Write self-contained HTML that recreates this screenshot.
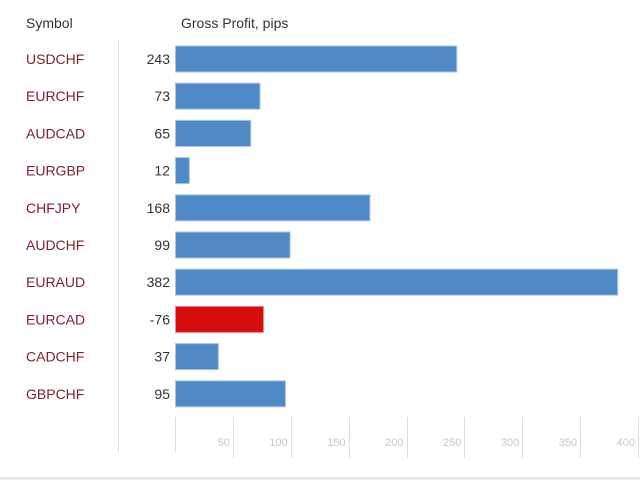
<!DOCTYPE html>
<html><head><meta charset="utf-8"><style>
body{margin:0;width:640px;height:480px;background:#fff;overflow:hidden;font-family:"Liberation Sans",sans-serif}
svg text{font-family:"Liberation Sans",sans-serif}
</style></head><body>
<svg width="640" height="480">
<text x="26" y="28" font-size="14" fill="#333">Symbol</text>
<text x="181" y="28" font-size="14" fill="#333">Gross Profit, pips</text>
<line x1="118.5" y1="40" x2="118.5" y2="452" stroke="#ddd"/>
<line x1="0" y1="478.5" x2="640" y2="478.5" stroke="#ddd" stroke-width="2"/>
<g id="axis"></g><g id="bars"></g>
</svg>
<script>
const symbols=["USDCHF","EURCHF","AUDCAD","EURGBP","CHFJPY","AUDCHF","EURAUD","EURCAD","CADCHF","GBPCHF"];
const profits=[243,73,65,12,168,99,382,-76,37,95];
const ticks=[50,100,150,200,250,300,350,400];
const NS="http://www.w3.org/2000/svg";
const x0=175,scale=(638-175)/400;
const x=v=>x0+v*scale;
const yc=i=>59+i*37.2;
function mk(t,a,p){const e=document.createElementNS(NS,t);for(const k in a)e.setAttribute(k,a[k]);p.appendChild(e);return e;}
const ax=document.getElementById('axis'),bs=document.getElementById('bars');
const zl=mk('line',{x1:x0+.5,y1:417,x2:x0+.5,y2:452,stroke:'#ddd'},ax);


ticks.forEach(t=>{
 const l=mk('line',{x1:Math.round(x(t))+.5,y1:417,x2:Math.round(x(t))+.5,y2:458,stroke:'#ddd'},ax);
 
 
 const tx=mk('text',{x:x(t)-3,y:446,'text-anchor':'end','font-size':11,fill:'#c8c8c8'},ax);
 tx.textContent=t;
 
 
});
symbols.forEach((s,i)=>{
 const y=yc(i),v=profits[i];
 const sl=mk('text',{x:26,y:y+5,'font-size':14,fill:'#7a1f2b'},bs);
 sl.textContent=s;
 
 
 const vl=mk('text',{x:170,y:y+5,'text-anchor':'end','font-size':14,fill:'#333'},bs);
 vl.textContent=v;
 
 
 const r=mk('rect',{x:x0+.5,y:y-13,width:Math.abs(v)*scale,height:26,fill:v<0?'#d40c0c':'#4f8ac6',stroke:v<0?'#e88':'#a8c4e4','stroke-width':1},bs);
 
 
});
</script>
</body></html>
